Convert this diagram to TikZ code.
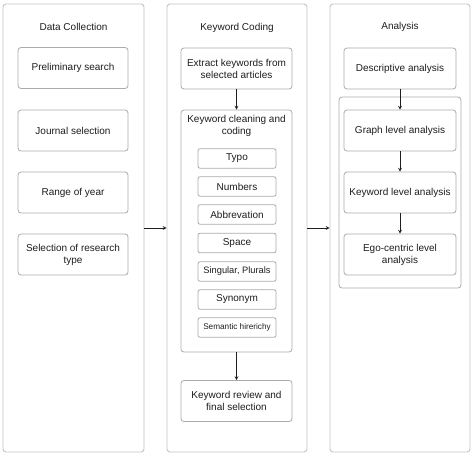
\documentclass[tikz,border=0pt]{standalone}
\usepackage{fontspec}
\setmainfont{Liberation Sans}
\usepackage{tikz}
\usepackage{xcolor}

\definecolor{outerline}{HTML}{C4C4C4}
\definecolor{innerline}{HTML}{ABABAB}
\definecolor{textdark}{HTML}{1E1E1E}

\begin{document}
\begin{tikzpicture}[x=1pt, y=-1pt,
            column/.style={rectangle, draw=outerline, line width=0.9pt, fill=white, rounded corners=3pt, minimum width=140pt, minimum height=448pt},
            stepbox/.style={rectangle, draw=innerline, line width=0.8pt, fill=white, rounded corners=3pt, minimum width=111pt, minimum height=41pt, align=center, text=textdark, font=\fontsize{10}{12}\selectfont},
            tagbox/.style={rectangle, draw=innerline, line width=0.8pt, fill=white, rounded corners=2pt, minimum width=78pt, minimum height=19.5pt, inner sep=1pt, text=textdark, font=\fontsize{10}{12}\selectfont},
            groupbox/.style={rectangle, draw=innerline, line width=0.8pt, rounded corners=3pt},
            title/.style={text=textdark, font=\fontsize{10}{12}\selectfont, align=center},
            arrow/.style={->,>=stealth, line width=0.7pt, draw=textdark}
        ]
            \useasboundingbox (0,0) rectangle (474,455);

            % Three column boxes
            \node[column, minimum width=141pt] (data_col) at (73.5,228) {};
            \node[column] (coding_col) at (237,228) {};
            \node[column] (analysis_col) at (400,228) {};

            % Column titles
            \node[title] (data_title) at (73.5,27) {Data Collection};
            \node[title] (coding_title) at (237,28) {Keyword Coding};
            \node[title] (analysis_title) at (400,27) {Analysis};

            % Data Collection steps
            \node[stepbox, minimum width=110pt] (prelim) at (73,68) {Preliminary search};
            \node[stepbox, minimum width=110pt] (journal) at (73,130.5) {Journal selection};
            \node[stepbox, minimum width=110pt] (years) at (73,192.5) {Range of year};
            \node[stepbox, minimum width=110pt] (restype) at (73,254.5) {Selection of research\\type};

            % Keyword Coding steps
            \node[stepbox] (extract) at (236.5,68.5) {Extract keywords from\\selected articles};
            \node[groupbox, minimum width=111pt, minimum height=242pt] (cleaning) at (236.5,231) {};
            \node[title] (cleaning_title) at (236.5,126) {Keyword cleaning and\\coding};
            \node[tagbox] (typo) at (237,158.5) {Typo};
            \node[tagbox] (numbers) at (237,186.5) {Numbers};
            \node[tagbox] (abbrev) at (237,214.5) {Abbrevation};
            \node[tagbox] (space) at (237,243) {Space};
            \node[tagbox, font=\fontsize{9.3}{11}\selectfont] (plurals) at (237,271.5) {Singular, Plurals};
            \node[tagbox] (synonym) at (237,299.5) {Synonym};
            \node[tagbox, font=\fontsize{8.2}{10}\selectfont] (semantic) at (237,327.5) {Semantic hirerichy};
            \node[stepbox] (review) at (236.5,401) {Keyword review and\\final selection};

            % Analysis steps
            \node[stepbox, minimum width=112pt] (descriptive) at (400,68.5) {Descriptive analysis};
            \node[groupbox, minimum width=122pt, minimum height=191pt] (levels) at (400,192.5) {};
            \node[stepbox, minimum width=112pt] (graph) at (400,130.5) {Graph level analysis};
            \node[stepbox, minimum width=112pt] (kwlevel) at (400,192.5) {Keyword level analysis};
            \node[stepbox, minimum width=112pt] (ego) at (400,254.5) {Ego-centric level\\analysis};

            % Arrows
            \draw[arrow] (data_col.east) -- (coding_col.west);
            \draw[arrow] (coding_col.east) -- (analysis_col.west);
            \draw[arrow] (extract) -- (cleaning.north);
            \draw[arrow] (cleaning) -- (review);
            \draw[arrow] (descriptive) -- (graph);
            \draw[arrow] (graph) -- (kwlevel);
            \draw[arrow] (kwlevel) -- (ego);
        \end{tikzpicture}
\end{document}
